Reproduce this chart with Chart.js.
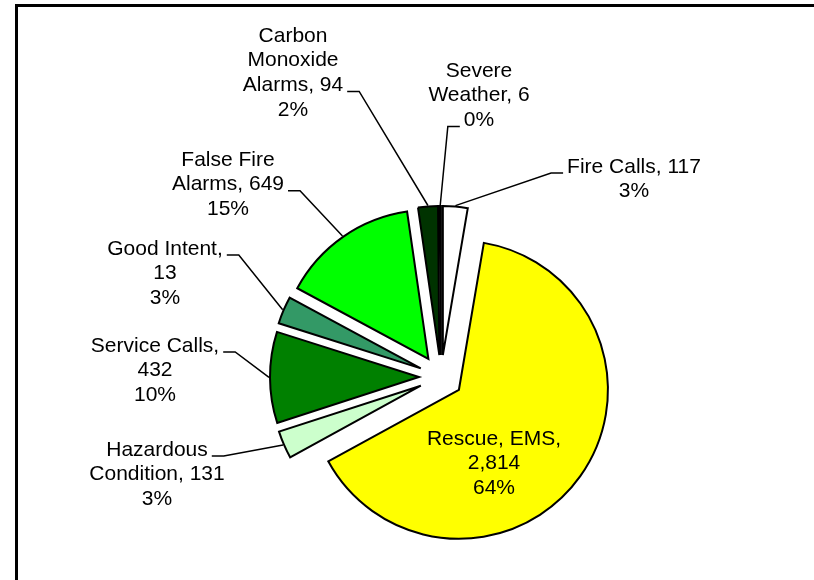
<!DOCTYPE html>
<html lang="en">
<head>
  <meta charset="UTF-8">
  <title>Incidents by Type</title>
  <script src="https://cdn.jsdelivr.net/npm/chart.js"></script>
  <style>
    html, body { margin: 0; padding: 0; background: #ffffff; overflow: hidden; }
    .frame {
      position: absolute; left: 15px; top: 4px;
      width: 900px; height: 700px;
      border-left: 3px solid #000000; border-top: 3px solid #000000;
    }
    #incidentChart { position: absolute; left: 0; top: 0; }
  </style>
</head>
<body>
  <div class="frame"></div>
  <canvas id="incidentChart" width="814" height="580"></canvas>

  <script>
    // data, clockwise from 12 o'clock
    const categories = ['Fire Calls', 'Rescue, EMS', 'Hazardous Condition', 'Service Calls',
                        'Good Intent', 'False Fire Alarms', 'Carbon Monoxide Alarms', 'Severe Weather'];
    const incidentCounts = [117, 2814, 131, 432, 130, 649, 94, 6];
    const countLabels = ['117', '2,814', '131', '432', '13', '649', '94', '6'];
    const percentLabels = ['3%', '64%', '3%', '10%', '3%', '15%', '2%', '0%'];
    const sliceColors = ['#ffffff', '#ffff00', '#ccffcc', '#008000', '#339966', '#00ff00', '#003300', '#000000'];

    // label placement relative to pie centre (first line centre), and which line gets the leader
    const labelPlacement = [
      { dx: 193, dy: -210, tick: 0, side: 'left' },
      { dx: 53, dy: 62, tick: null },
      { dx: -284, dy: 73, tick: 0, side: 'right' },
      { dx: -286, dy: -31, tick: 0, side: 'right' },
      { dx: -276, dy: -128, tick: 0, side: 'right' },
      { dx: -213, dy: -217, tick: 1, side: 'right' },
      { dx: -148, dy: -341, tick: 2, side: 'right' },
      { dx: 38, dy: -306, tick: 2, side: 'left' }
    ];

    const EXPLODE = 22;     // px every slice is pulled out
    const RADIUS = 149;
    const FONT = '21px "Liberation Sans", Arial, sans-serif';
    const LINE_H = 24.7;
    const WRAP_W = 138;

    function wrapText(ctx, text, maxW) {
      const words = text.split(' ');
      const lines = [];
      let cur = '';
      words.forEach(w => {
        const test = cur ? cur + ' ' + w : w;
        if (cur && ctx.measureText(test).width > maxW) {
          lines.push(cur);
          cur = w;
        } else {
          cur = test;
        }
      });
      if (cur) lines.push(cur);
      return lines;
    }

    // chart.js offset also grows the radius and trims the angle of small slices;
    // undo that so every slice is only moved out, like an exploded Excel pie
    const evenExplode = {
      id: 'evenExplode',
      afterDatasetsUpdate(chart) {
        chart.getDatasetMeta(0).data.forEach(arc => {
          const fix = 1 - Math.sin(Math.min(Math.PI, arc.circumference));
          const grow = EXPLODE * fix;
          const widen = grow / (Math.PI * RADIUS) / 2;
          arc.outerRadius = RADIUS - grow;
          arc.startAngle -= widen;
          arc.endAngle += widen;
        });
      }
    };

    const sliceLabels = {
      id: 'sliceLabels',
      afterDatasetsDraw(chart) {
        const ctx = chart.ctx;
        const arcs = chart.getDatasetMeta(0).data;
        ctx.save();
        ctx.font = FONT;
        ctx.fillStyle = '#000000';
        ctx.strokeStyle = '#000000';
        ctx.lineWidth = 1.5;
        ctx.textAlign = 'center';
        ctx.textBaseline = 'middle';
        arcs.forEach((arc, i) => {
          const place = labelPlacement[i];
          const lines = wrapText(ctx, categories[i] + ', ' + countLabels[i], WRAP_W);
          lines.push(percentLabels[i]);
          const x = arc.x + place.dx;
          const y0 = arc.y + place.dy;
          lines.forEach((t, k) => ctx.fillText(t, x, y0 + k * LINE_H));
          if (place.tick === null) return;

          const mid = (arc.startAngle + arc.endAngle) / 2;
          const r = RADIUS + EXPLODE + 1;
          const px = arc.x + Math.cos(mid) * r;
          const py = arc.y + Math.sin(mid) * r;
          const w = ctx.measureText(lines[place.tick]).width;
          const ty = y0 + place.tick * LINE_H + 6;
          const dir = place.side === 'right' ? 1 : -1;
          const sx = x + dir * (w / 2 + 4);
          const ex = sx + dir * 12;
          ctx.beginPath();
          ctx.moveTo(sx, ty);
          ctx.lineTo(ex, ty);
          ctx.lineTo(px, py);
          ctx.stroke();
        });
        ctx.restore();
      }
    };

    const chart = new Chart(document.getElementById('incidentChart'), {
      type: 'pie',
      data: {
        labels: categories,
        datasets: [{
          data: incidentCounts,
          backgroundColor: sliceColors,
          borderColor: '#000000',
          borderWidth: 2,
          borderJoinStyle: 'miter',
          offset: EXPLODE * 4   // arc.draw translates by offset / 4
        }]
      },
      options: {
        responsive: false,
        animation: false,
        events: [],
        radius: RADIUS,
        layout: { padding: { left: 268, right: 200, top: 204, bottom: 30 } },
        plugins: {
          legend: { display: false },
          tooltip: { enabled: false }
        }
      },
      plugins: [evenExplode, sliceLabels]
    });
  </script>
</body>
</html>
